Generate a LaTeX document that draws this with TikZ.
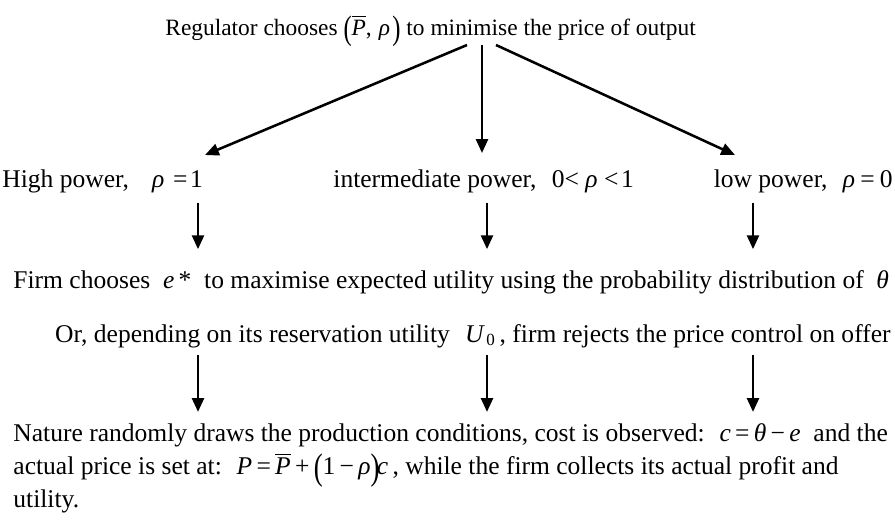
\documentclass[tikz,border=0pt]{standalone}
\usepackage{fontspec}
\setmainfont{Liberation Serif}
\usepackage{graphicx}
\usetikzlibrary{arrows.meta}
\newcommand{\tallparen}[1]{\raisebox{-0.2em}{\scalebox{1.05}[1.45]{#1}}}
\tikzset{
  steptext/.style={inner sep=0pt, anchor=base west},
  flowarrow/.style={-{Triangle[length=6.5pt,width=5.6pt]}, line width=1.2pt},
}

\begin{document}
\begin{tikzpicture}[x=0.47pt,y=0.47pt,font=\fontsize{12}{15.5}\selectfont]
  \useasboundingbox (0,0) rectangle (895,-521);

  \node[steptext, font=\fontsize{11}{13}\selectfont] (regulator) at (165,-35) {Regulator chooses \tallparen{(}$\overline{\textit{P}}$,\hspace{0.3em}\textit{ρ}\hspace{0.1em}\tallparen{)} to minimise the price of output};

  \node[steptext] (high) at (2,-187) {High power,\hspace{0.9em}\textit{ρ}\hspace{0.35em}=\hspace{0.1em}1};
  \node[steptext] (inter) at (333,-187) {intermediate power,\hspace{0.6em}0<\hspace{0.25em}\textit{ρ}\hspace{0.25em}<\hspace{0.1em}1};
  \node[steptext, anchor=base east] (low) at (893,-187) {low power,\hspace{0.6em}\textit{ρ}\hspace{0.2em}=\hspace{0.2em}0};

  \node[steptext] (firm) at (13,-288) {Firm chooses \ \textit{e}\,* \ to maximise expected utility using the probability distribution of \ \textit{θ}};

  \node[steptext, anchor=base east] (reject) at (891,-342) {Or, depending on its reservation utility\hspace{0.6em}\textit{U}\kern0.05em\textsubscript{0}\hspace{0.15em}, firm rejects the price control on offer};

  \node[inner sep=0pt, anchor=north west, align=left] (nature) at (13,-423) {Nature randomly draws the production conditions, cost is observed: \ \textit{c}\,=\,\textit{θ}\,−\,\textit{e} \ and the\\
    actual price is set at: \ \textit{P}\,=\,$\overline{\textit{P}}$\,+\,\tallparen{(}1\,−\,\textit{ρ}\tallparen{)}\kern-0.1em\textit{c}\,, while the firm collects its actual profit and\\
    utility.};

  % fork under the regulator
  \coordinate (forkL) at (467,-45);
  \coordinate (forkM) at (482,-45);
  \coordinate (forkR) at (496,-45);
  \coordinate (tipL) at (205,-155);
  \coordinate (tipM) at (482,-153);
  \coordinate (tipR) at (735,-155);
  \draw[flowarrow] (forkL) -- (tipL);
  \draw[flowarrow] (forkM) -- (tipM);
  \draw[flowarrow] (forkR) -- (tipR);

  % columns of the short arrows
  \coordinate (colA) at (198,0);
  \coordinate (colB) at (487,0);
  \coordinate (colC) at (753,0);
  \foreach \c in {colA,colB,colC} {
    \draw[flowarrow, shorten <=4.5pt, shorten >=9.6pt] (high.south -| \c) -- (firm.north -| \c);
    \draw[flowarrow, shorten <=3.5pt, shorten >=5.2pt] (reject.south -| \c) -- (nature.north -| \c);
  }
\end{tikzpicture}
\end{document}
